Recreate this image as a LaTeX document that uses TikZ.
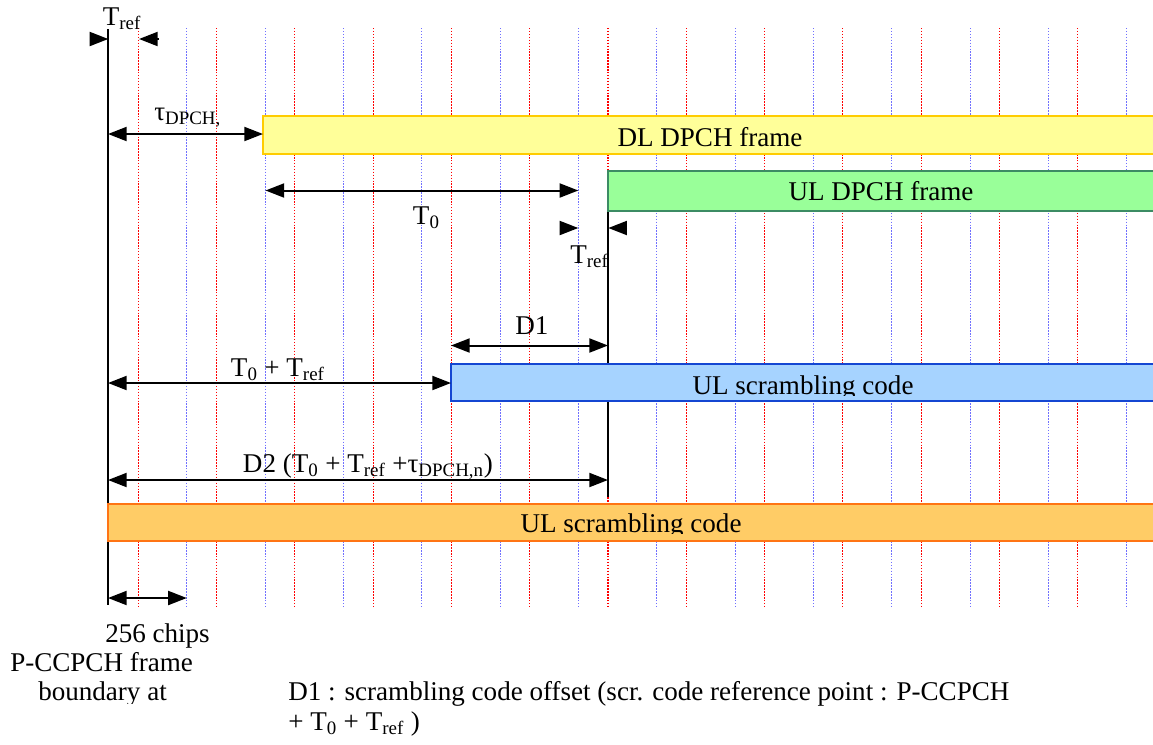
\documentclass[tikz,border=0pt]{standalone}
\usepackage{fontspec}
\setmainfont{Liberation Serif}
\usetikzlibrary{arrows.meta}
\definecolor{dlfill}{HTML}{FFFF99}
\definecolor{dlline}{HTML}{FFCC00}
\definecolor{ulfill}{HTML}{99FF99}
\definecolor{ulline}{HTML}{3C8C64}
\definecolor{scfill}{HTML}{A6D3FF}
\definecolor{scline}{HTML}{1446D2}
\definecolor{orfill}{HTML}{FFCC66}
\definecolor{orline}{HTML}{FF7414}
\definecolor{gblue}{HTML}{7070FF}
\begin{document}
\begin{tikzpicture}[x=0.75pt,y=-0.75pt,
  txt/.style={font=\fontsize{20.3}{24}\selectfont, inner sep=0pt},
  gridred/.style={draw=red, line width=0.8pt, dash pattern=on 1.1pt off 1.1pt},
  gridblue/.style={draw=gblue, line width=0.8pt, dash pattern=on 1.1pt off 1.1pt},
  tip/.tip={Triangle[length=14pt,width=10.5pt]},
  dimarrow/.style={line width=1.5pt, tip-tip},
  onearrow/.style={line width=1.5pt, -tip},
  barbox/.style={line width=1.7pt},
  timeline/.style={line width=1.4pt}]
\useasboundingbox (0,0) rectangle (1153,744);
\clip (0,0) rectangle (1153,744);
% grid
\foreach \k in {0,...,12} {
  \draw[gridred] ({138.3+78.28*\k},28) -- ++(0,578);
  \draw[gridblue] ({186.8+78.33*\k},28) -- ++(0,578);
}
% vertical time references
\coordinate (P0top) at (108,29);
\coordinate (P0bot) at (108,605);
\draw[timeline] (P0top) -- (P0bot);
\coordinate (V1top) at (608,211);
\coordinate (V1bot) at (608,497);
\draw[timeline] (V1top) -- (V1bot);
% boxes
\filldraw[barbox, fill=dlfill, draw=dlline] (263,116) rectangle (1165,154);
\node[txt, anchor=base] (dltext) at (710,146) {DL DPCH frame};
\filldraw[barbox, fill=ulfill, draw=ulline] (608,171) rectangle (1165,211);
\node[txt, anchor=base] (ultext) at (881,200) {UL DPCH frame};
\filldraw[barbox, fill=scfill, draw=scline] (451,364) rectangle (1165,401);
\begin{scope}
  \clip (451,364) rectangle (1165,395);
  \node[txt, anchor=base] (sctext) at (803,394) {UL scrambling code};
\end{scope}
\filldraw[barbox, fill=orfill, draw=orline] (108,504) rectangle (1165,541);
\begin{scope}
  \clip (108,504) rectangle (1165,533.5);
  \node[txt, anchor=base] (ortext) at (631,532) {UL scrambling code};
\end{scope}
% arrows
\coordinate (ta1) at (91,39);   \coordinate (ta2) at (108.3,39);
\coordinate (tb1) at (159,39);  \coordinate (tb2) at (139,39);
\draw[onearrow] (ta1) -- (ta2);
\draw[onearrow] (tb1) -- (tb2);
\coordinate (tau1) at (108,134); \coordinate (tau2) at (263,134);
\draw[dimarrow] (tau1) -- (tau2);
\coordinate (t01) at (265.5,190.5); \coordinate (t02) at (578.3,190.5);
\draw[dimarrow] (t01) -- (t02);
\coordinate (tc1) at (560,228); \coordinate (tc2) at (578.3,228);
\coordinate (td1) at (627,228); \coordinate (td2) at (608.3,228);
\draw[onearrow] (tc1) -- (tc2);
\draw[onearrow] (td1) -- (td2);
\coordinate (d11) at (451,345.5); \coordinate (d12) at (608,345.5);
\draw[dimarrow] (d11) -- (d12);
\coordinate (tt1) at (108,383); \coordinate (tt2) at (451,383);
\draw[dimarrow] (tt1) -- (tt2);
\coordinate (d21) at (108,480); \coordinate (d22) at (608,480);
\draw[dimarrow] (d21) -- (d22);
\coordinate (c1) at (108,598); \coordinate (c2) at (186.8,598);
\draw[dimarrow] (c1) -- (c2);
% labels
\node[txt, anchor=base west] (lref1) at (102.5,25) {T\textsubscript{ref}};
\node[txt, anchor=base west] (ltau) at (154,120) {τ\textsubscript{DPCH,}};
\node[txt, anchor=base west] (lt0) at (412.7,224) {T\textsubscript{0}};
\node[txt, anchor=base west] (lref2) at (570,263) {T\textsubscript{ref}};
\node[txt, anchor=base west] (ld1) at (515,334) {D1};
\node[txt, anchor=base west] (lsum) at (230.7,376) {T\textsubscript{0} + T\textsubscript{ref}};
\node[txt, anchor=base west] (ld2) at (242.7,472) {D2 (T\textsubscript{0} + T\textsubscript{ref} +τ\textsubscript{DPCH,n})};
\node[txt, anchor=base west] (lchips) at (105,642) {256 chips};
\node[txt, anchor=base west] (lpcc) at (10,671) {P-CCPCH frame};
\begin{scope}
  \clip (30,675) rectangle (200,703);
  \node[txt, anchor=base west] (lbound) at (38,700) {boundary at};
\end{scope}
\node[txt, anchor=base west] (lnote1) at (288,700) {D1 : scrambling code offset (scr. code reference point : P-CCPCH};
\node[txt, anchor=base west] (lnote2) at (288,730) {+ T\textsubscript{0} + T\textsubscript{ref} )};
\end{tikzpicture}
\end{document}
